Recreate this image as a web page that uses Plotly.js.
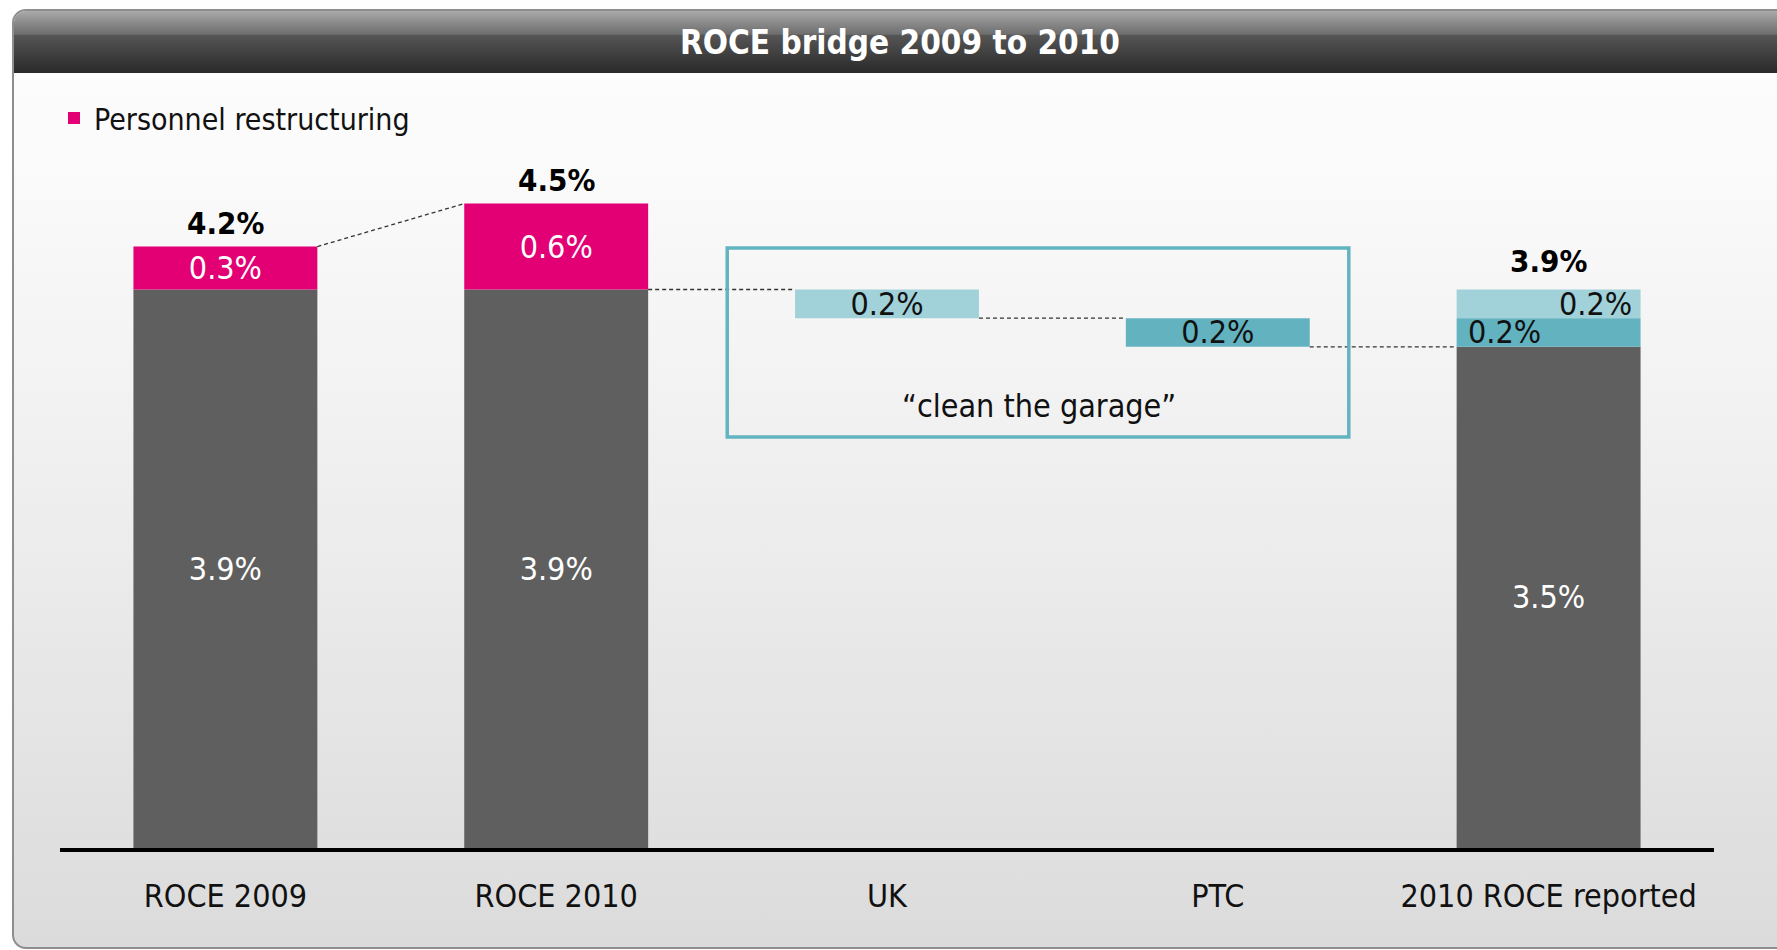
<!DOCTYPE html>
<html>
<head>
<meta charset="utf-8">
<script src="https://cdn.plot.ly/plotly-3.0.1.min.js"></script>
<style>
  html, body { margin:0; padding:0; width:1777px; height:950px; overflow:hidden; background:#ffffff; }
  #frame { position:absolute; left:12px; top:9px; width:1840px; height:936px;
           border:2px solid #8e8e8e; border-radius:14px; overflow:hidden;
           background:linear-gradient(to bottom, #fdfdfd 0%, #fbfbfb 15%, #efefef 50%, #dbdbdb 100%); }
  #header { position:absolute; left:0; top:0; width:100%; height:61px;
            background:linear-gradient(to bottom, #aaaaaa 0%, #8c8c8c 18%, #6e6e6e 38%, #555555 40%, #3c3c3c 75%, #2b2b2b 100%);
            border-bottom:1px solid #2a2a2a; }
  #chart { position:absolute; left:0; top:0; width:1777px; height:950px; }
</style>
</head>
<body>
<div id="frame"><div id="header"></div></div>
<div id="chart"></div>
<script>
// ---- data ----
const categories = ['ROCE 2009', 'ROCE 2010', 'UK', 'PTC', '2010 ROCE reported'];
const coreRoce   = [3.9, 3.9, null, null, 3.5];     // dark grey base
const personnel  = [0.3, 0.6, null, null, null];    // Personnel restructuring
const ukEffect   = [null, null, 0.2, null, 0.2];    // UK
const ptcEffect  = [null, null, null, 0.2, 0.2];    // PTC
const totals     = [4.2, 4.5, null, null, 3.9];     // bold totals
const boxLabel   = '\u201cclean the garage\u201d';
const legendName = 'Personnel restructuring';

// ---- derived waterfall levels ----
const startLevel = coreRoce[1];                 // 3.9
const ukLevel    = startLevel - ukEffect[2];    // 3.7
const ptcLevel   = ukLevel - ptcEffect[3];      // 3.5
const fmt = v => (v == null ? '' : v.toFixed(1) + '%');

const ukBase  = [null, null, ukLevel, null, coreRoce[4] + ptcEffect[4]];
const ptcBase = [null, null, null, ptcLevel, coreRoce[4]];

const FONT = 'DejaVu Sans Condensed, Liberation Sans Narrow, sans-serif';
const W = 0.556;
const GREY = '#5f5f5f', PINK = '#e20074', LTEAL = '#a1d2d9', TEAL = '#62b3bf';
const LBL = 32;

const common = {
  type: 'bar', x: categories, width: W, marker: { line: { width: 0 } },
  textposition: 'inside', insidetextanchor: 'middle', textangle: 0, constraintext: 'none',
  hoverinfo: 'skip', cliponaxis: false
};

const traces = [
  Object.assign({}, common, {
    name: 'Core', y: coreRoce, base: 0, showlegend: false,
    marker: { color: GREY, line: { width: 0 } },
    text: coreRoce.map(fmt),
    insidetextfont: { family: FONT, size: LBL, color: '#ffffff' }
  }),
  Object.assign({}, common, {
    name: legendName, y: personnel, base: coreRoce.map(v => v == null ? 0 : v), showlegend: true,
    marker: { color: PINK, line: { width: 0 } },
    text: personnel.map(fmt),
    insidetextfont: { family: FONT, size: LBL, color: '#ffffff' }
  }),
  Object.assign({}, common, {
    name: 'UK', y: ukEffect, base: ukBase, showlegend: false,
    marker: { color: LTEAL, line: { width: 0 } },
    text: ukEffect.map((v, i) => i === 4 ? '' : fmt(v)),
    insidetextfont: { family: FONT, size: LBL, color: '#111111' }
  }),
  Object.assign({}, common, {
    name: 'PTC', y: ptcEffect, base: ptcBase, showlegend: false,
    marker: { color: TEAL, line: { width: 0 } },
    text: ptcEffect.map((v, i) => i === 4 ? '' : fmt(v)),
    insidetextfont: { family: FONT, size: LBL, color: '#111111' }
  })
];

const annotations = [];
totals.forEach((t, i) => {
  if (t == null) return;
  annotations.push({ x: categories[i], y: t, xref: 'x', yref: 'y', text: '<b>' + fmt(t) + '</b>',
    showarrow: false, yanchor: 'bottom', yshift: i === 4 ? 9 : 4,
    font: { family: FONT, size: 31, color: '#000000' } });
});
// side labels on the reported bar
annotations.push({ x: 4, y: ukBase[4] + ukEffect[4] / 2, xref: 'x', yref: 'y', text: fmt(ukEffect[4]),
  showarrow: false, xanchor: 'right', yanchor: 'middle', xshift: 85,
  font: { family: FONT, size: LBL, color: '#111111' } });
annotations.push({ x: 4, y: ptcBase[4] + ptcEffect[4] / 2, xref: 'x', yref: 'y', text: fmt(ptcEffect[4]),
  showarrow: false, xanchor: 'left', yanchor: 'middle', xshift: -83,
  font: { family: FONT, size: LBL, color: '#111111' } });
annotations.push({ x: 2.46, y: 3.09, xref: 'x', yref: 'y', text: boxLabel, showarrow: false,
  font: { family: FONT, size: LBL, color: '#111111' } });

const hw = W / 2;
const dash = { color: '#333333', width: 1.3, dash: '4px,3px' };
const shapes = [
  { type: 'line', xref: 'x', yref: 'y', x0: 0 + hw, x1: 1 - hw, y0: totals[0], y1: totals[1], line: dash },
  { type: 'line', xref: 'x', yref: 'y', x0: 1 + hw, x1: 2 - hw, y0: startLevel, y1: startLevel, line: dash },
  { type: 'line', xref: 'x', yref: 'y', x0: 2 + hw, x1: 3 - hw, y0: ukLevel, y1: ukLevel, line: dash },
  { type: 'line', xref: 'x', yref: 'y', x0: 3 + hw, x1: 4 - hw, y0: ptcLevel, y1: ptcLevel, line: dash },
  { type: 'rect', xref: 'x', yref: 'y', x0: 1.517, x1: 3.396, y0: 2.87, y1: 4.19,
    line: { color: '#62b4c0', width: 3.5 }, fillcolor: 'rgba(0,0,0,0)' }
];

const layout = {
  width: 1777, height: 950,
  paper_bgcolor: 'rgba(0,0,0,0)', plot_bgcolor: 'rgba(0,0,0,0)',
  margin: { l: 60, r: 63, t: 131.5, b: 102, autoexpand: false },
  barmode: 'overlay',
  title: { text: '<b>ROCE bridge 2009 to 2010</b>', xref: 'container', yref: 'container',
           x: 900 / 1777, xanchor: 'center', y: 1 - 42 / 950, yanchor: 'middle',
           font: { family: FONT, size: 33, color: '#ffffff' } },
  showlegend: true,
  legend: { xref: 'container', yref: 'container', x: 54 / 1777, xanchor: 'left',
            y: 1 - 118 / 950, yanchor: 'middle', bgcolor: 'rgba(0,0,0,0)',
            font: { family: FONT, size: 30, color: '#111111' } },
  xaxis: { type: 'category', range: [-0.5, 4.5], fixedrange: true, showgrid: false, zeroline: false,
           showline: true, linecolor: '#000000', linewidth: 4, ticks: '', ticklabelstandoff: 17,
           tickfont: { family: FONT, size: 32, color: '#111111' } },
  yaxis: { range: [0, 5], visible: false, fixedrange: true, showgrid: false, zeroline: false },
  shapes: shapes,
  annotations: annotations
};

Plotly.newPlot('chart', traces, layout, { displayModeBar: false, staticPlot: true });
</script>
</body>
</html>
